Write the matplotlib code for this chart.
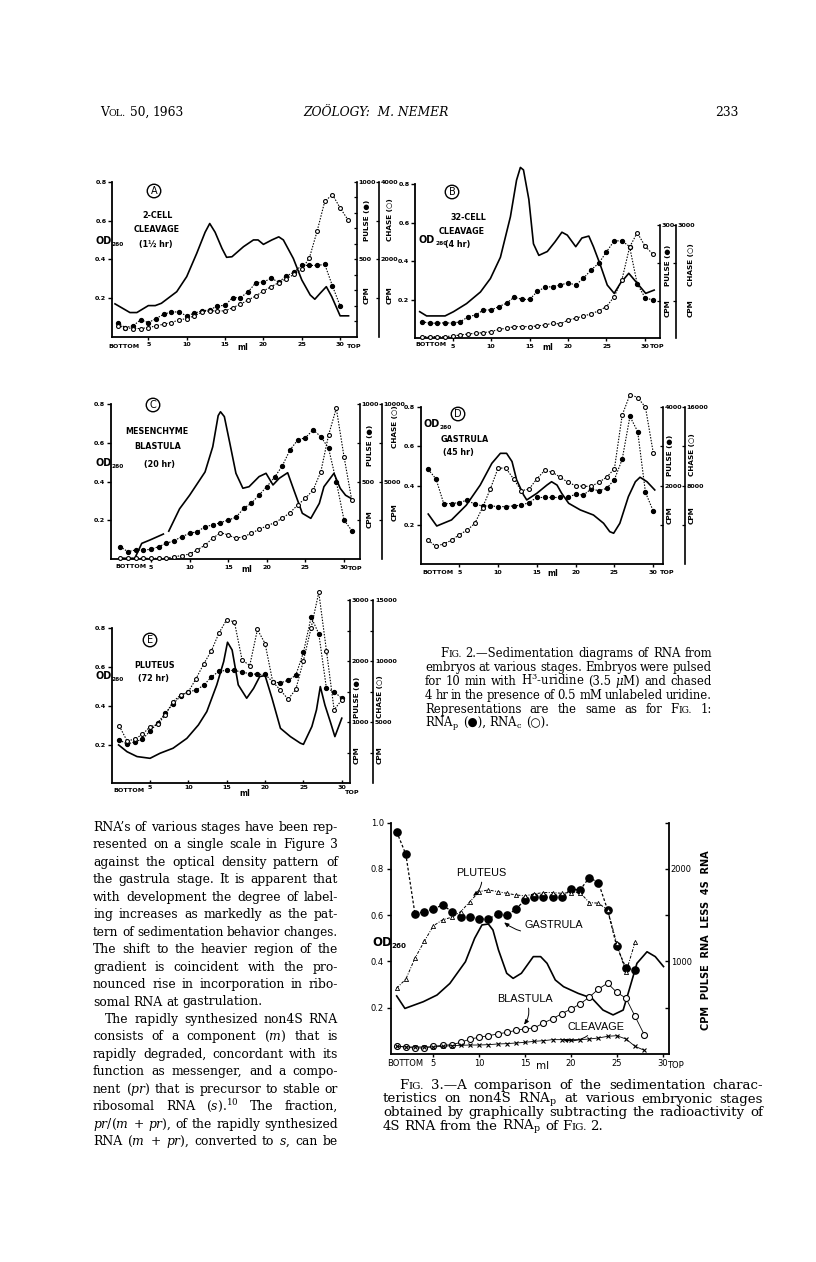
import numpy as np
import matplotlib
matplotlib.use('Agg')
import matplotlib.pyplot as plt

plt.rcParams['font.family'] = ['DejaVu Sans']
plt.rcParams['mathtext.fontset'] = 'dejavuserif'

# ---------------- data ----------------
ML_TICKS = [5, 10, 15, 20, 25, 30]
OD_TICKS = [0.2, 0.4, 0.6, 0.8]
F3_OD_TICKS = [0.2, 0.4, 0.6, 0.8, 1.0]

# Panel A : 2-cell cleavage
odA_ml = [0.65, 2.6, 3.5, 5.0, 5.9, 6.7, 8.7, 10.0, 11.3, 12.4, 13.0, 13.7, 14.6, 15.2, 15.9, 17.4,
          18.7, 19.3, 20.0, 21.1, 22.0, 22.6, 23.9, 25.0, 26.1, 26.7, 27.4, 28.2, 28.9, 30.0, 31.1]
odA = [0.169, 0.124, 0.124, 0.160, 0.160, 0.172, 0.232, 0.310, 0.430, 0.540, 0.585, 0.540, 0.456, 0.410,
       0.413, 0.465, 0.500, 0.500, 0.477, 0.500, 0.516, 0.500, 0.404, 0.293, 0.215, 0.193, 0.224, 0.258,
       0.207, 0.107, 0.107]
pulseA_ml = list(range(1, 31))
pulseA = [86, 58, 69, 108, 90, 116, 144, 159, 159, 133, 151, 166, 172, 198, 202, 252, 252, 288, 348, 353,
          376, 353, 391, 417, 460, 460, 460, 467, 327, 198]
chaseA_ml = list(range(1, 32))
chaseA = [275, 232, 206, 206, 232, 275, 318, 361, 430, 464, 533, 637, 662, 662, 662, 748, 834, 946, 1049,
          1178, 1290, 1394, 1497, 1609, 1738, 2039, 2727, 3501, 3673, 3329, 3028]

# Panel B : 32-cell cleavage
odB_ml = [0.7, 1.6, 4.0, 5.1, 6.8, 8.6, 9.9, 11.2, 12.5, 13.3, 13.8, 14.2, 14.9, 15.5, 16.2, 17.3, 18.3,
          19.2, 19.9, 21.0, 21.8, 22.7, 23.3, 24.2, 25.1, 26.0, 26.8, 27.9, 29.0, 30.1, 31.2]
odB = [0.138, 0.116, 0.116, 0.138, 0.180, 0.240, 0.310, 0.420, 0.630, 0.820, 0.886, 0.873, 0.720, 0.490,
       0.430, 0.450, 0.500, 0.550, 0.535, 0.475, 0.520, 0.530, 0.475, 0.380, 0.276, 0.233, 0.285, 0.337,
       0.285, 0.233, 0.250]
pulseB_ml = list(range(1, 32))
pulseB = [44, 40, 40, 41, 40, 44, 57, 62, 75, 75, 84, 93, 109, 103, 103, 124, 135, 137, 141, 147, 141,
          159, 181, 199, 229, 258, 258, 243, 144, 108, 101]
chaseB_ml = list(range(1, 32))
chaseB = [44, 44, 44, 44, 62, 88, 115, 132, 150, 176, 238, 265, 309, 309, 309, 326, 353, 397, 379, 485,
          529, 591, 644, 732, 838, 1103, 1544, 2409, 2797, 2444, 2232]

# Panel C : mesenchyme blastula
odC_ml = [1.0, 2.9, 3.8, 4.9, 6.6, np.nan, 7.3, 8.7, 10.0, 12.0, 13.0, 13.7, 14.0, 14.5, 15.2, 16.0, 16.9,
          17.7, 19.0, 19.9, 20.8, 21.6, 22.7, 23.5, 24.6, 25.7, 26.8, 27.4, 28.7, 29.5, 30.2, 30.9]
odC = [0.005, 0.005, 0.082, 0.100, 0.130, np.nan, 0.145, 0.260, 0.330, 0.450, 0.580, 0.740, 0.760, 0.735,
       0.600, 0.443, 0.366, 0.374, 0.426, 0.443, 0.383, 0.417, 0.446, 0.357, 0.237, 0.211, 0.288, 0.374,
       0.443, 0.366, 0.330, 0.314]
pulseC_ml = list(range(1, 32))
pulseC = [82, 49, 60, 60, 64, 82, 103, 120, 146, 167, 178, 210, 221, 236, 253, 270, 328, 361, 414, 468,
          528, 601, 704, 768, 783, 833, 790, 715, 500, 253, 185]
chaseC_ml = list(range(1, 32))
chaseC = [64, 64, 64, 64, 64, 64, 64, 172, 236, 343, 601, 923, 1352, 1717, 1567, 1352, 1459, 1674, 1931,
          2146, 2361, 2639, 3004, 3498, 3927, 4464, 5644, 8004, 9721, 6609, 3820]

# Panel D : gastrula
odD_ml = [1.0, 2.1, 4.0, 5.9, 7.7, 9.2, 10.3, 11.1, 11.8, 12.4, 13.3, 13.7, 15.0, 16.3, 16.9, 17.6, 18.2,
          19.1, 20.6, 22.3, 23.6, 24.4, 24.9, 25.7, 26.8, 27.7, 28.3, 29.2, 30.2]
odD = [0.255, 0.194, 0.225, 0.300, 0.403, 0.514, 0.565, 0.565, 0.523, 0.429, 0.352, 0.327, 0.361, 0.403,
       0.420, 0.403, 0.361, 0.310, 0.276, 0.250, 0.208, 0.165, 0.157, 0.208, 0.344, 0.420, 0.443, 0.420,
       0.378]
pulseD_ml = list(range(1, 31))
pulseD = [2414, 2172, 1543, 1543, 1569, 1629, 1526, 1483, 1483, 1466, 1466, 1483, 1500, 1569, 1698, 1698,
          1698, 1698, 1698, 1784, 1759, 1914, 1871, 1931, 2155, 2672, 3767, 3379, 1828, 1353]
chaseD_ml = list(range(1, 31))
chaseD = [2414, 1793, 2069, 2414, 3000, 3448, 4138, 5759, 7655, 9793, 9793, 8690, 7483, 7655, 8690, 9552,
          9379, 8862, 8345, 8000, 7931, 7931, 8345, 8862, 9724, 15200, 17300, 17000, 16000, 11379]

# Panel E : pluteus
odE_ml = [0.9, 2.0, 3.3, 5.0, 6.3, 8.0, 9.8, 11.3, 12.4, 13.7, 14.6, 15.1, 15.7, 16.5, 17.6, 18.5, 19.3,
          20.0, 20.9, 22.0, 23.3, 24.6, 25.0, 26.1, 26.7, 27.2, 27.8, 28.5, 29.1, 30.0]
odE = [0.198, 0.163, 0.138, 0.129, 0.155, 0.181, 0.232, 0.301, 0.370, 0.508, 0.628, 0.728, 0.688, 0.508,
       0.439, 0.490, 0.551, 0.556, 0.439, 0.284, 0.241, 0.207, 0.201, 0.293, 0.379, 0.499, 0.404, 0.318,
       0.241, 0.336]
pulseE_ml = list(range(1, 31))
pulseE = [710, 641, 678, 721, 855, 989, 1150, 1300, 1429, 1499, 1525, 1606, 1740, 1836, 1847, 1847, 1820,
          1794, 1783, 1783, 1660, 1643, 1686, 1767, 2142, 2721, 2448, 1552, 1499, 1391]
chaseE_ml = list(range(1, 31))
chaseE = [4678, 3472, 3606, 4008, 4625, 4812, 5617, 6689, 7225, 7493, 8566, 9772, 10845, 12319, 13391,
          13204, 10094, 9638, 12587, 11434, 8298, 7627, 6877, 7681, 10041, 12721, 15617, 10845, 6019, 6823]

# Fig. 3
od3_ml = [1.0, 1.9, 3.9, 5.4, 6.8, 8.5, 9.5, 10.3, 11.0, 11.5, 12.1, 13.0, 13.7, 14.6, 15.9, 16.7, 17.4,
          18.3, 19.2, 20.8, 22.3, 23.5, 24.6, 25.7, 26.3, 27.2, 28.3, 29.2, 30.1]
od3 = [0.251, 0.197, 0.226, 0.255, 0.305, 0.399, 0.500, 0.558, 0.562, 0.536, 0.450, 0.349, 0.327, 0.349,
       0.421, 0.421, 0.392, 0.320, 0.291, 0.262, 0.241, 0.190, 0.169, 0.190, 0.270, 0.392, 0.442, 0.421,
       0.378]
gastrula_ml = list(range(1, 28))
gastrula = [2403, 2158, 1511, 1540, 1565, 1612, 1540, 1478, 1486, 1460, 1460, 1511, 1497, 1565, 1666,
            1694, 1694, 1694, 1694, 1781, 1773, 1906, 1853, 1558, 1162, 928, 910]
pluteus_ml = list(range(1, 28))
pluteus = [712, 809, 1036, 1216, 1385, 1450, 1478, 1540, 1648, 1755, 1773, 1755, 1737, 1719, 1709, 1730,
           1745, 1745, 1737, 1745, 1745, 1637, 1630, 1558, 1198, 881, 1209]
blastula_ml = list(range(1, 29))
blastula = [90, 72, 65, 65, 83, 94, 101, 126, 162, 180, 198, 216, 234, 255, 273, 281, 335, 381, 435, 486,
            540, 615, 701, 766, 666, 604, 406, 209]
cleavage_ml = list(range(1, 29))
cleavage = [83, 76, 76, 76, 76, 83, 90, 94, 97, 97, 101, 108, 112, 119, 126, 137, 144, 155, 155, 155, 155,
            162, 173, 191, 198, 162, 83, 40]

# ---------------- figure ----------------
W, H = 816, 1262
fig = plt.figure(figsize=(W / 100, H / 100), dpi=100)
fig.patch.set_facecolor('white')
R = fig.canvas.get_renderer()

NARROW = ['Liberation Sans Narrow', 'DejaVu Sans']
SERIF = ['DejaVu Serif', 'DejaVu Sans']
TICKFS = 4.6


def fx(x):
    return x / W


def fy(y):
    return 1 - y / H


def add_ax(l, t, r, b):
    return fig.add_axes([fx(l), fy(b), (r - l) / W, (b - t) / H])


def ftext(x, y, s, **kw):
    return fig.text(fx(x), fy(y), s, **kw)


def bold(labels):
    for lab in labels:
        lab.set_fontweight('bold')


def right_axis(ax, top, vmax, step, labels, pos=None):
    a = ax.twinx()
    for s in ('left', 'top', 'bottom'):
        a.spines[s].set_visible(False)
    if pos is not None:
        a.spines['right'].set_position(('axes', pos))
    a.set_ylim(0, top)
    a.spines['right'].set_bounds(0, vmax)
    a.spines['right'].set_linewidth(1.2)
    ticks = np.arange(step, vmax + step / 2, step)
    a.set_yticks(ticks)
    a.set_yticklabels([str(int(v)) if int(v) in labels else '' for v in ticks])
    a.tick_params(axis='y', direction='in', length=2.5, width=0.9, labelsize=TICKFS, pad=1.2)
    bold(a.get_yticklabels())
    return a


def panel(box, xlim, od_top, od_x, od_y, p_x, p_y, c_x, c_y, pcfg, ccfg, xdir='out'):
    l, t, r, b = box
    ax = add_ax(l, t, r, b)
    ax.patch.set_alpha(0)
    ax.set_xlim(*xlim)
    ax.set_ylim(0, od_top)
    ax.spines['top'].set_visible(False)
    ax.spines['right'].set_visible(False)
    ax.spines['left'].set_bounds(0, 0.8)
    ax.spines['left'].set_linewidth(1.3)
    ax.spines['bottom'].set_linewidth(1.3)
    ax.set_yticks(OD_TICKS)
    ax.set_yticklabels([f'{v:.1f}' for v in OD_TICKS])
    ax.set_xticks(ML_TICKS)
    ax.set_xticklabels([str(v) for v in ML_TICKS])
    ax.tick_params(axis='y', direction='out', length=3, width=1, labelsize=TICKFS, pad=1)
    ax.tick_params(axis='x', direction=xdir, length=2.5, width=1, labelsize=TICKFS, pad=1.5)
    bold(ax.get_xticklabels() + ax.get_yticklabels())
    ax.plot(od_x, od_y, color='k', lw=1.2, clip_on=False, solid_joinstyle='round')
    axp = right_axis(ax, *pcfg)
    axc = right_axis(ax, *ccfg)
    axp.plot(p_x, p_y, color='k', lw=0.8, ls=(0, (1.3, 1.3)), marker='o', ms=2.8,
             mfc='k', mec='k', clip_on=False)
    axc.plot(c_x, c_y, color='k', lw=0.8, ls=(0, (1.3, 1.3)), marker='o', ms=2.8,
             mfc='white', mec='k', mew=0.8, clip_on=False)
    return ax


def circ(x, y, s):
    ftext(x, y, s, fontsize=7, ha='center', va='center',
          bbox=dict(boxstyle='circle,pad=0.18', fc='none', ec='k', lw=1.0))


def title(x, y, s, fs=5.8):
    ftext(x, y, s, fontsize=fs, family=NARROW, weight='bold', ha='center', va='center')


def od_label(x, y, fs=7.0):
    t = ftext(x, y, 'OD', fontsize=fs, family=NARROW, weight='bold', va='center', ha='left')
    w = t.get_window_extent(R).width
    ftext(x + w, y + fs * 0.5, '260', fontsize=fs * 0.6, family=NARROW, weight='bold',
          va='center', ha='left')


def vlabel(x, y, s, fs=5.2):
    ftext(x, y, s, fontsize=fs, family=NARROW, weight='bold', rotation=90,
          ha='center', va='center')


def xlabels(xb, xml, xtop, y, fs=TICKFS):
    ftext(xb, y, 'BOTTOM', fontsize=fs, weight='bold', ha='left', va='center')
    ftext(xml, y + 2, 'ml', fontsize=fs + 1, weight='bold', ha='center', va='center')
    ftext(xtop, y + 1, 'TOP', fontsize=fs, weight='bold', ha='left', va='center')


# Panel A
panel((112, 182, 357, 336.5), (0.26, 32.2), 0.8, odA_ml, odA, pulseA_ml, pulseA, chaseA_ml, chaseA,
      (1000, 1000, 100, [500, 1000]), (4000, 4000, 1000, [2000, 4000], 1.09))
circ(154, 191, 'A')
title(158, 216, '2-CELL'); title(157, 230, 'CLEAVAGE'); title(156, 245, '(1½ hr)')
od_label(95, 241)
vlabel(367, 220, 'PULSE (●)'); vlabel(367, 295, 'CPM')
vlabel(390, 220, 'CHASE (○)'); vlabel(390, 295, 'CPM')
xlabels(108, 243, 347, 346)

# Panel B
panel((415, 184, 660, 338.3), (0.09, 31.96), 0.8, odB_ml, odB, pulseB_ml, pulseB, chaseB_ml, chaseB,
      (408.5, 300, 100, [300]), (4085, 3000, 1000, [3000], 1.065))
circ(452, 192, 'B')
title(468, 217, '32-CELL'); title(462, 231, 'CLEAVAGE'); title(458, 244, '(4 hr)')
od_label(419, 240)
vlabel(668, 265, 'PULSE (●)'); vlabel(668, 308, 'CPM')
vlabel(691, 265, 'CHASE (○)'); vlabel(691, 308, 'CPM')
xlabels(415, 548, 650, 345)

# Panel C
panel((110.7, 404, 360, 559.3), (-0.22, 32.07), 0.8, odC_ml, odC, pulseC_ml, pulseC, chaseC_ml, chaseC,
      (1000, 1000, 250, [500, 1000]), (10000, 10000, 2500, [5000, 10000], 1.088))
circ(153, 405, 'C')
title(157, 432, 'MESENCHYME'); title(158, 447, 'BLASTULA'); title(160, 464, '(20 hr)')
od_label(95, 463)
vlabel(370, 445, 'PULSE (●)'); vlabel(370, 519, 'CPM')
vlabel(395, 427, 'CHASE (○)'); vlabel(395, 512, 'CPM')
xlabels(115, 247, 348, 567)

# Panel D
panel((420.7, 407.3, 663.3, 564), (0.03, 31.3), 0.8, odD_ml, odD, pulseD_ml, pulseD, chaseD_ml, chaseD,
      (4000, 4000, 1000, [2000, 4000]), (16000, 16000, 4000, [8000, 16000], 1.09))
circ(458, 414, 'D')
title(465, 439, 'GASTRULA'); title(458, 452, '(45 hr)')
od_label(423, 424)
vlabel(670, 455, 'PULSE (●)'); vlabel(670, 515, 'CPM')
vlabel(692, 455, 'CHASE (○)'); vlabel(692, 515, 'CPM')
xlabels(422, 553, 660, 572)

# Panel E
panel((111.7, 600, 350, 783.3), (0.0, 31.07), 0.946, odE_ml, odE, pulseE_ml, pulseE, chaseE_ml, chaseE,
      (3000, 3000, 500, [1000, 2000, 3000]), (15000, 15000, 2500, [5000, 10000, 15000], 1.098), xdir='in')
circ(150, 640, 'E')
title(155, 665, 'PLUTEUS'); title(153, 679, '(72 hr)')
od_label(95, 676)
vlabel(357, 697, 'PULSE (●)'); vlabel(357, 755, 'CPM')
vlabel(380, 697, 'CHASE (○)'); vlabel(380, 755, 'CPM')
xlabels(113, 245, 345, 791)

# ---------------- Fig. 3 ----------------
ax3 = add_ax(390.7, 822.7, 669.3, 1054)
ax3.patch.set_alpha(0)
ax3.set_xlim(0.35, 30.73)
ax3.set_ylim(0, 1.0)
ax3.spines['top'].set_visible(False)
ax3.spines['right'].set_visible(False)
ax3.spines['left'].set_linewidth(1.3)
ax3.spines['bottom'].set_linewidth(1.3)
ax3.set_yticks(F3_OD_TICKS)
ax3.set_yticklabels([f'{v:.1f}' for v in F3_OD_TICKS])
ax3.set_xticks(ML_TICKS)
ax3.set_xticklabels([str(v) for v in ML_TICKS])
ax3.tick_params(axis='y', direction='out', length=3, width=1, labelsize=6, pad=2)
ax3.tick_params(axis='x', direction='out', length=2, width=1, labelsize=6, pad=1.5)
ax3.plot(od3_ml, od3, color='k', lw=1.2, solid_joinstyle='round')

ax3r = ax3.twinx()
for s in ('left', 'top', 'bottom'):
    ax3r.spines[s].set_visible(False)
ax3r.spines['right'].set_linewidth(1.3)
ax3r.set_ylim(0, 2500)
r_ticks = [500, 1000, 1500, 2000, 2500]
ax3r.set_yticks(r_ticks)
ax3r.set_yticklabels([str(v) if v in (1000, 2000) else '' for v in r_ticks])
ax3r.tick_params(axis='y', direction='in', length=3, width=1, labelsize=6, pad=1)

ax3r.plot(gastrula_ml, gastrula, color='k', lw=0.9, ls=(0, (2.2, 1.6)), marker='o', ms=5.2,
          mfc='k', mec='k', clip_on=False)
ax3r.plot(pluteus_ml, pluteus, color='k', lw=0.7, ls=(0, (3, 1.5, 1, 1.5)), marker='^', ms=3,
          mfc='white', mec='k', mew=0.6, clip_on=False)
ax3r.plot(blastula_ml, blastula, color='k', lw=0.6, ls='-', marker='o', ms=4.3,
          mfc='white', mec='k', mew=0.8, clip_on=False)
ax3r.plot(cleavage_ml, cleavage, color='k', lw=0.6, ls='-', marker='x', ms=2.8,
          mec='k', mew=0.8, clip_on=False)

arrow = dict(arrowstyle='-|>,head_length=0.35,head_width=0.15', lw=0.7, color='k',
             connectionstyle='arc3,rad=-0.35', shrinkA=1, shrinkB=1)
lab_kw = dict(fontsize=7.8, family=['Liberation Sans', 'DejaVu Sans'], ha='center', va='center',
              textcoords='figure pixels', arrowprops=arrow)
ax3r.annotate('PLUTEUS', xy=(9.2, 1700), xytext=(481, H - 873), **lab_kw)
ax3r.annotate('GASTRULA', xy=(12.6, 1432), xytext=(554, H - 925), **lab_kw)
ax3r.annotate('BLASTULA', xy=(14.8, 306), xytext=(525, H - 999), **lab_kw)
ax3r.annotate('CLEAVAGE', xy=(19.0, 160), xytext=(596, H - 1027), **lab_kw)

od_label(372, 942, fs=8.5)
ftext(706, 940, 'CPM  PULSE  RNA  LESS  4S  RNA', fontsize=7, family=NARROW, weight='bold',
      rotation=90, ha='center', va='center')
ftext(387, 1064, 'BOTTOM', fontsize=6, ha='left', va='center')
ftext(543, 1066, 'ml', fontsize=7.5, ha='center', va='center')
ftext(667, 1065, 'TOP', fontsize=6, ha='left', va='center')


# ---------------- page text ----------------
def word_parts(w, fs, style):
    if '|' in w:
        a, b = w.split('|', 1)
        parts = [(a, fs), (b, fs * 0.78)]
    else:
        parts = [(w, fs)]
    objs = []
    for s, size in parts:
        t = fig.text(0, 0, s, fontsize=size, family=SERIF, style=style, va='baseline', ha='left')
        objs.append((t, t.get_window_extent(R).width))
    return objs


def text_line(line, x0, x1, y, fs, justify=True, style='normal'):
    words = line.split()
    while True:
        items = [word_parts(w, fs, style) for w in words]
        widths = [sum(wd for _, wd in it) for it in items]
        nat = fs * 100 / 72 * 0.3
        if justify and len(words) > 1:
            gap = (x1 - x0 - sum(widths)) / (len(words) - 1)
            if gap < nat * 0.75:
                for it in items:
                    for t, _ in it:
                        t.remove()
                fs *= 0.97
                continue
        else:
            gap = nat
        break
    x = x0
    for it, wd in zip(items, widths):
        xx = x
        for t, w in it:
            t.set_position((fx(xx), fy(y)))
            xx += w
        x += wd + gap


# header
text_line('V|OL. 50, 1963', 100, 178, 116, 8.8, justify=False)
ftext(376, 116, 'ZOÖLOGY:  M. NEMER', fontsize=8.8, family=SERIF, style='italic',
      ha='center', va='baseline')
ftext(738, 116, '233', fontsize=8.8, family=SERIF, ha='right', va='baseline')

# Fig. 2 caption
cap2 = [
    'F|IG. 2.—Sedimentation diagrams of RNA from',
    'embryos at various stages.  Embryos were pulsed',
    r'for 10 min with H$^{3}$-uridine (3.5 $\mu$M) and chased',
    '4 hr in the presence of 0.5 mM unlabeled uridine.',
    'Representations are the same as for F|IG. 1:',
    r'RNA$_\mathrm{p}$ (●), RNA$_\mathrm{c}$ (○).',
]
for i, ln in enumerate(cap2):
    x0 = 440 if i == 0 else 425
    text_line(ln, x0, 712, 657 + i * 14, 8.4, justify=(i < len(cap2) - 1))

# body text
body = [
    'RNA’s of various stages have been rep-',
    'resented on a single scale in Figure 3',
    'against the optical density pattern of',
    'the gastrula stage.  It is apparent that',
    'with development the degree of label-',
    'ing increases as markedly as the pat-',
    'tern of sedimentation behavior changes.',
    'The shift to the heavier region of the',
    'gradient is coincident with the pro-',
    'nounced rise in incorporation in ribo-',
    'somal RNA at gastrulation.',
    'The rapidly synthesized non4S RNA',
    r'consists of a component ($m$) that is',
    'rapidly degraded, concordant with its',
    'function as messenger, and a compo-',
    r'nent ($pr$) that is precursor to stable or',
    r'ribosomal RNA ($s$).$^{10}$  The fraction,',
    r'$pr/(m$ $+$ $pr$), of the rapidly synthesized',
    r'RNA ($m$ $+$ $pr$), converted to $s$, can be',
]
for i, ln in enumerate(body):
    x0 = 105 if i == 11 else 93
    text_line(ln, x0, 338, 831 + i * 17.45, 8.9, justify=(i != 10))

# Fig. 3 caption
cap3 = [
    'F|IG. 3.—A comparison of the sedimentation charac-',
    r'teristics on non4S RNA$_\mathrm{p}$ at various embryonic stages',
    'obtained by graphically subtracting the radioactivity of',
    r'4S RNA from the RNA$_\mathrm{p}$ of F|IG. 2.',
]
for i, ln in enumerate(cap3):
    x0 = 399 if i == 0 else 383
    text_line(ln, x0, 763, 1089 + i * 13.5, 9.6, justify=(i < len(cap3) - 1))

fig.savefig('out.png', dpi=100, facecolor='white')
